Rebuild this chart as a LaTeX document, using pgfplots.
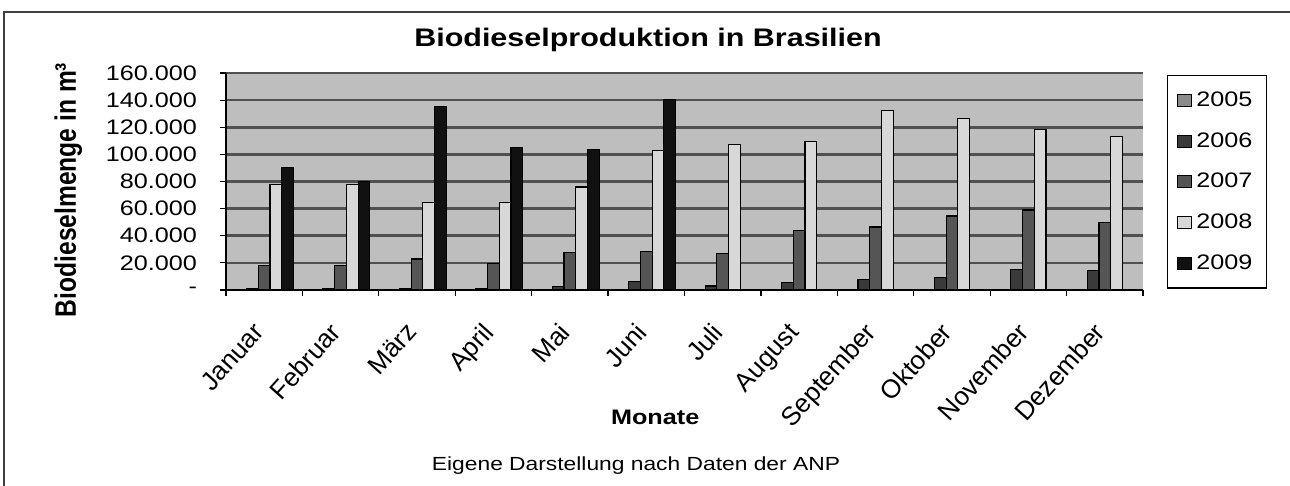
\documentclass[border=0pt]{standalone}
\usepackage{fontspec}
\setmainfont{Liberation Sans}[FakeStretch=1.2]
\newfontfamily\ylfont{Liberation Sans}
\usepackage{pgfplots}
\pgfplotsset{compat=1.18}
\usepackage{pgfplotstable}

\definecolor{bgc}{HTML}{BEBEBE}
\definecolor{gridc}{HTML}{505050}
\definecolor{cA}{HTML}{8A8A8A}
\definecolor{cB}{HTML}{3A3A3A}
\definecolor{cC}{HTML}{555555}
\definecolor{cD}{HTML}{D8D8D8}
\definecolor{cE}{HTML}{111111}

\pgfplotstableread{
m   y2005 y2006 y2007 y2008
0   0     1075  18000  77500
1   0     1043  18000  77500
2   0     1025  22800  64500
3   0     1062  19300  64800
4   0     2388  27500  76000
5   0     6154  28500  103000
6   0     3000  27000  107500
7   0     5500  44000  109500
8   0     7500  46500  132500
9   0     9200  54500  126500
10  0     15000 59000  118500
11  0     14500 50000  113000
}\dataA

\pgfplotstableread{
m   y2009
0   90500
1   80000
2   135500
3   105000
4   103500
5   140500
}\dataB

\begin{document}
\begin{tikzpicture}
\useasboundingbox (0,0) rectangle (645pt,243pt);
\fill[white] (0,0) rectangle (645pt,243pt);
\draw[line width=0.8pt, black!75] (2pt,0) -- (2pt,237pt) -- (645pt,237pt);
\begin{axis}[
  at={(113pt,98pt)}, anchor=south west,
  scale only axis, width=458.5pt, height=108.5pt,
  axis lines=left, axis line style={-, line width=0.7pt},
  axis background/.style={fill=bgc},
  ybar=0pt, bar width=5.85pt,
  xmin=-0.5, xmax=11.5, ymin=0, ymax=160000,
  scaled y ticks=false,
  ytick={0,20000,...,160000},
  yticklabels={{-\hspace{3.5pt}},20.000,40.000,60.000,80.000,100.000,120.000,140.000,160.000},
  xtick={0,...,11},
  xticklabels={Januar,Februar,März,April,Mai,Juni,Juli,August,September,Oktober,November,Dezember},
  minor xtick={-0.5,0.5,...,11.5},
  tick align=outside,
  major tick length=3pt, minor tick length=3pt,
  x tick style={draw=none},
  minor x tick style={draw=black, line width=0.6pt},
  y tick style={black, line width=0.6pt},
  ymajorgrids, major grid style={line width=1.3pt, color=gridc},
  yticklabel style={font=\fontsize{10.5}{12}\selectfont, xshift=-8pt},
  xticklabel style={font=\ylfont\fontsize{13}{15}\selectfont, inner sep=0pt,
     anchor=north east, xshift=-6.15pt, yshift=-12.3pt, rotate=48},
  ylabel={Biodieselmenge in m³},
  ylabel style={at={(axis description cs:-0.172,0.461)}, anchor=center, yscale=1.2, font=\ylfont\bfseries\fontsize{12.3}{14}\selectfont},
  xlabel={Monate},
  xlabel style={at={(axis description cs:0.468,-0.585)}, anchor=center, font=\bfseries\fontsize{10.5}{12}\selectfont},
  legend style={at={(axis description cs:1.026,0.99)}, anchor=north west, draw=black, line width=0.6pt, fill=white,
     font=\fontsize{10.5}{12}\selectfont, row sep=7.5pt, inner xsep=5pt, inner ysep=6pt},
  legend cell align=left,
  legend image code/.code={\draw[#1, line width=0.5pt] (0pt,-3pt) rectangle (7pt,3pt);},
  every axis plot/.append style={draw=black, line width=0.6pt},
]
\addplot[fill=cA] table[x=m, y=y2005] {\dataA};
\addplot[fill=cB] table[x=m, y=y2006] {\dataA};
\addplot[fill=cC] table[x=m, y=y2007] {\dataA};
\addplot[fill=cD] table[x=m, y=y2008] {\dataA};
\addplot[fill=cE] table[x=m, y=y2009] {\dataB};
\legend{2005,2006,2007,2008,2009}
\end{axis}
\node[font=\bfseries\fontsize{12.7}{14}\selectfont] at (324pt,223pt) {Biodieselproduktion in Brasilien};
\node[font=\fontsize{9.5}{11}\selectfont] at (318pt,10pt) {Eigene Darstellung nach Daten der ANP};
\end{tikzpicture}
\end{document}
